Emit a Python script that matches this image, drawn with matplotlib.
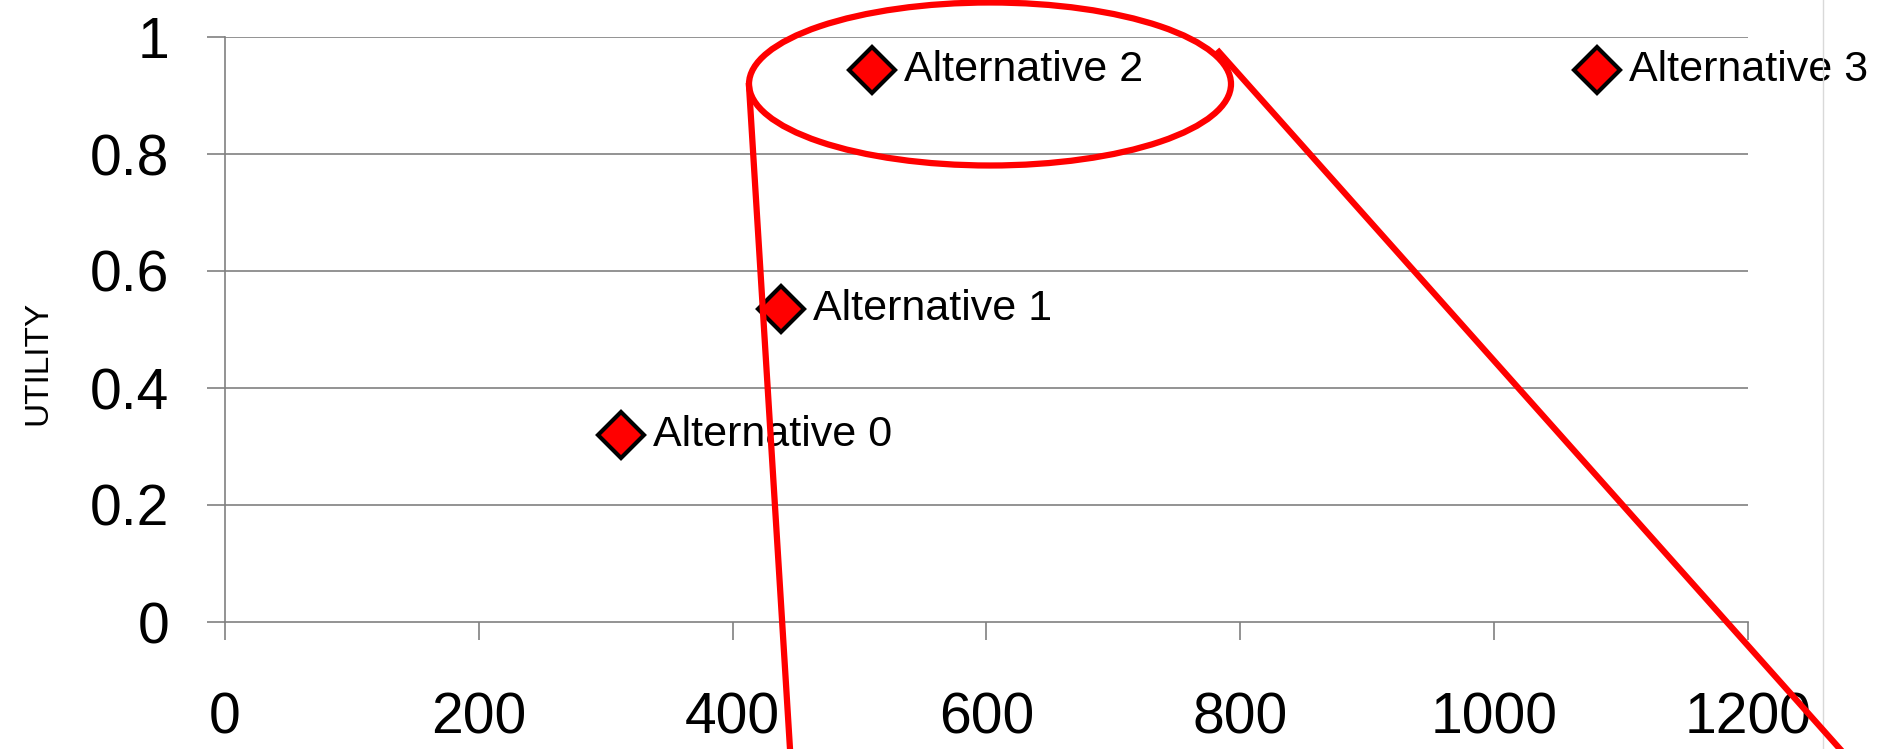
import matplotlib.pyplot as plt
from matplotlib.patches import Ellipse
from matplotlib.lines import Line2D

plt.rcParams['font.family'] = ['Liberation Sans', 'DejaVu Sans']

cost = [312, 438, 510, 1081]
utility = [0.32, 0.535, 0.943, 0.943]
names = ['Alternative 0', 'Alternative 1', 'Alternative 2', 'Alternative 3']
xticks = [0, 200, 400, 600, 800, 1000, 1200]
yticks = [0, 0.2, 0.4, 0.6, 0.8, 1]
ytick_labels = ['0', '0.2', '0.4', '0.6', '0.8', '1']

W, H = 1883, 749
fig = plt.figure(figsize=(W / 100, H / 100), dpi=100)
ax = fig.add_axes([225 / W, 1 - 622 / H, (1748 - 225) / W, (622 - 37) / H])

grey = '#808080'
ax.set_xlim(0, 1200)
ax.set_ylim(0, 1)
for y in yticks[1:]:
    ax.axhline(y, color=grey, lw=1.2, zorder=1)

ax.plot(cost, utility, 'D', ms=23, mfc='red', mec='black', mew=3,
        ls='none', zorder=3, clip_on=False)
for x, y, n in zip(cost, utility, names):
    ax.annotate(n, (x, y), xytext=(23, 0), textcoords='offset points',
                ha='left', va='center', fontsize=31, zorder=4,
                annotation_clip=False)

ax.set_xticks(xticks)
ax.set_yticks(yticks)
ax.set_yticklabels(ytick_labels)
ax.tick_params(axis='both', direction='out', length=13, width=1.2, color=grey,
               labelsize=41)
ax.tick_params(axis='x', pad=37)
ax.tick_params(axis='y', pad=27)
for s in ['top', 'right']:
    ax.spines[s].set_visible(False)
for s in ['left', 'bottom']:
    ax.spines[s].set_color(grey)
    ax.spines[s].set_linewidth(1.2)

fig.text(38 / W, 1 - 363 / H, 'UTILITY', rotation=90, ha='center',
         va='center', fontsize=24)

# right edge of the plot area
fig.add_artist(Line2D([1823 / W, 1823 / W], [0, 1], color='#d9d9d9', lw=1))

# callout shapes
fig.add_artist(Ellipse((990 / W, 1 - 84 / H), 482 / W, 163 / H, fill=False,
                       edgecolor='red', lw=4.5, transform=fig.transFigure))
fig.add_artist(Line2D([749 / W, 790 / W], [1 - 86 / H, 0], color='red',
                      lw=4.5))
fig.add_artist(Line2D([1219 / W, 1840 / W], [1 - 52 / H, 0], color='red',
                      lw=4.5))

fig.savefig('out.png', dpi=100)
